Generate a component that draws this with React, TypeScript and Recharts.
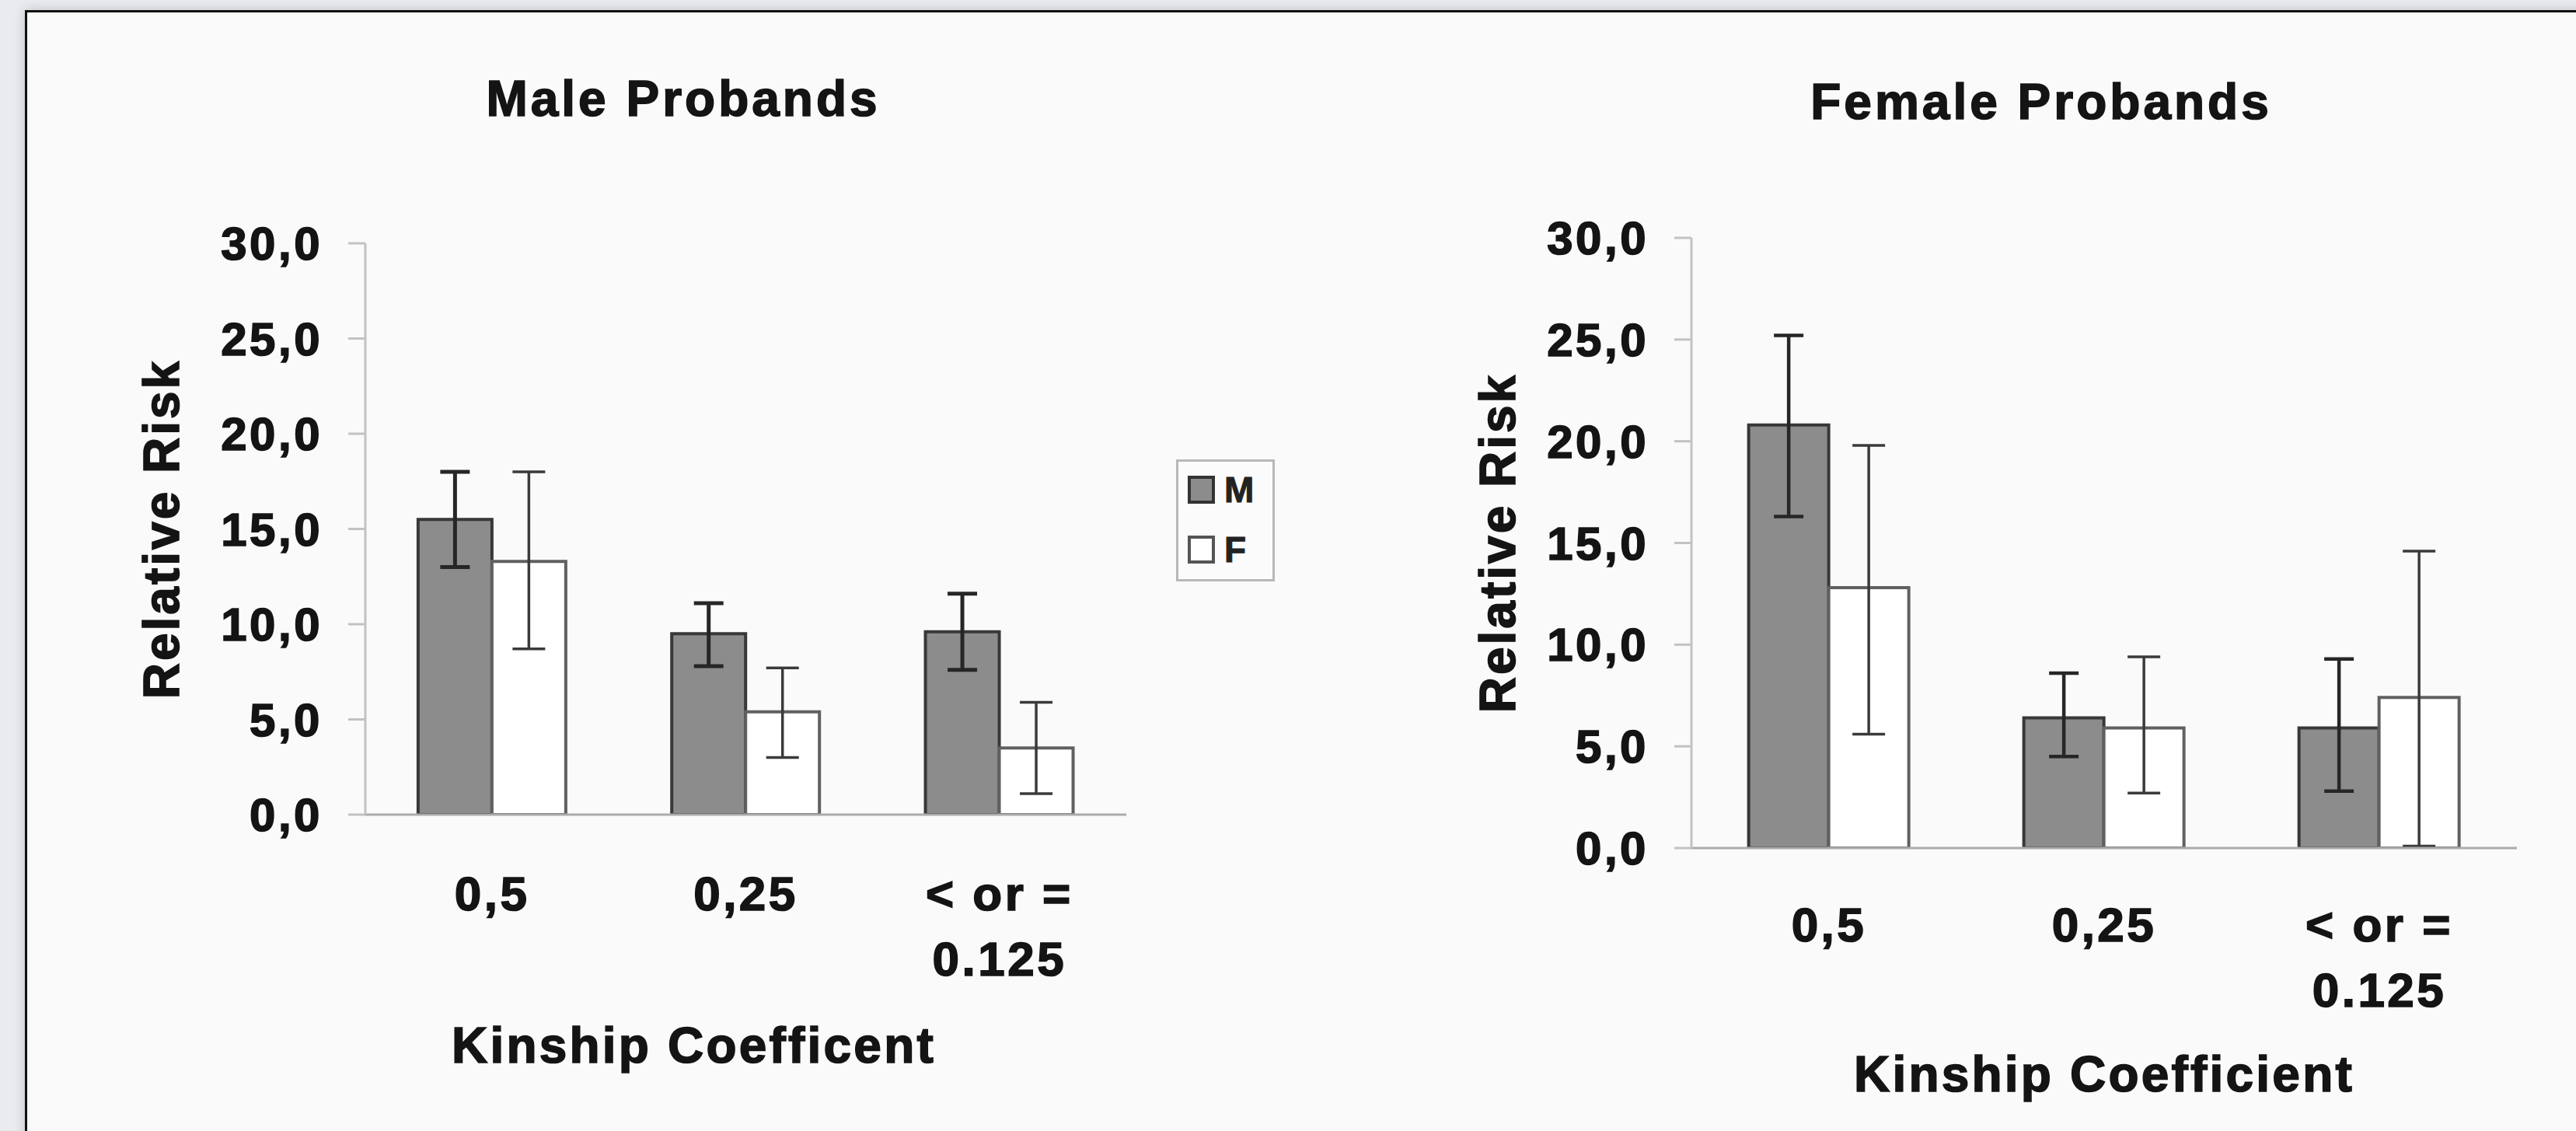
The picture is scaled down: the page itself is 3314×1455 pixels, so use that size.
import React from 'react';
import { BarChart, Bar, XAxis, YAxis, ErrorBar, Legend } from 'recharts';

// ---------- data ----------
const categories = ['0,5', '0,25', '< or =\n0.125'];
const yTicks = [0, 5, 10, 15, 20, 25, 30];
const yTickLabels = ['0,0', '5,0', '10,0', '15,0', '20,0', '25,0', '30,0'];
const seriesNames = ['M', 'F'];

// Male probands
const maleM = [15.5, 9.5, 9.6];
const maleMLow = [13.0, 7.8, 7.6];
const maleMHigh = [18.0, 11.1, 11.6];
const maleF = [13.3, 5.4, 3.5];
const maleFLow = [8.7, 3.0, 1.1];
const maleFHigh = [18.0, 7.7, 5.9];

// Female probands
const femaleM = [20.8, 6.4, 5.9];
const femaleMLow = [16.3, 4.5, 2.8];
const femaleMHigh = [25.2, 8.6, 9.3];
const femaleF = [12.8, 5.9, 7.4];
const femaleFLow = [5.6, 2.7, 0.1];
const femaleFHigh = [19.8, 9.4, 14.6];

const titles = ['Male Probands', 'Female Probands'];
const xTitles = ['Kinship Coefficent', 'Kinship Coefficient'];
const yTitle = 'Relative Risk';

// ---------- styles ----------
const FONT = "'Liberation Sans', Arial, Helvetica, sans-serif";
const INK = '#141414';
const M_FILL = '#8c8c8c';
const M_STROKE = '#383838';
const F_FILL = '#ffffff';
const F_STROKE = '#606060';
const legendFills = [M_FILL, F_FILL];
const legendStrokes = ['#333', '#555'];

function buildRows(m: number[], mLo: number[], mHi: number[], f: number[], fLo: number[], fHi: number[]) {
  return categories.map((cat, i) => ({
    cat,
    M: m[i],
    F: f[i],
    mErr: [m[i] - mLo[i], mHi[i] - m[i]],
    fErr: [f[i] - fLo[i], fHi[i] - f[i]],
  }));
}

const maleRows = buildRows(maleM, maleMLow, maleMHigh, maleF, maleFLow, maleFHigh);
const femaleRows = buildRows(femaleM, femaleMLow, femaleMHigh, femaleF, femaleFLow, femaleFHigh);

const textStyle = {
  fontFamily: FONT,
  fontWeight: 700,
  fill: INK,
  stroke: INK,
  strokeWidth: 1.6,
};

const YTick = (props: any) => {
  const { x, y, payload } = props;
  const idx = yTicks.indexOf(payload.value);
  return (
    <text x={x} y={y} dy={21} textAnchor="end" fontSize={60} letterSpacing={3.5} {...textStyle}>
      {yTickLabels[idx]}
    </text>
  );
};

const makeXTick = (base: number, gap: number) => (props: any) => {
  const { x, y, payload } = props;
  const lines = String(payload.value).split('\n');
  return (
    <g>
      {lines.map((ln, i) => (
        <text key={i} x={x} y={y + base + i * gap} textAnchor="middle" fontSize={62} letterSpacing={3.5} {...textStyle}>
          {ln}
        </text>
      ))}
    </g>
  );
};

const makeYLabel = (bx: number) => (props: any) => {
  const vb = props.viewBox || {};
  const cx = (vb.x || 0) + bx;
  const cy = (vb.y || 0) + (vb.height || 0) / 2;
  return (
    <text x={cx} y={cy} transform={`rotate(-90 ${cx} ${cy})`} textAnchor="middle" fontSize={64} letterSpacing={3} {...textStyle}>
      {yTitle}
    </text>
  );
};

const makeXLabel = (text: string, dx: number, base: number) => (props: any) => {
  const vb = props.viewBox || {};
  const cx = (vb.x || 0) + (vb.width || 0) / 2 + dx;
  const cy = (vb.y || 0) + base;
  return (
    <text x={cx} y={cy} textAnchor="middle" fontSize={64} letterSpacing={3.2} {...textStyle}>
      {text}
    </text>
  );
};

const LegendBox = (props: any) => {
  const payload = [...(props.payload || [])].sort(
    (a: any, b: any) => seriesNames.indexOf(a.value) - seriesNames.indexOf(b.value)
  );
  return (
    <div
      style={{
        width: 127,
        height: 157,
        boxSizing: 'border-box',
        border: '3px solid #b8b8b8',
        background: '#fbfbfb',
        paddingTop: 16,
        paddingLeft: 12,
        fontFamily: FONT,
      }}
    >
      {payload.map((entry: any, i: number) => (
        <div key={i} style={{ display: 'flex', alignItems: 'center', height: 40, marginBottom: 37 }}>
          <span
            style={{
              display: 'inline-block',
              width: 35,
              height: 36,
              boxSizing: 'border-box',
              background: legendFills[i],
              border: `4px solid ${legendStrokes[i]}`,
            }}
          />
          <span
            style={{
              marginLeft: 12,
              fontSize: 46,
              fontWeight: 700,
              color: '#222',
              lineHeight: '40px',
              WebkitTextStroke: '1px #222',
            }}
          >
            {entry.value}
          </span>
        </div>
      ))}
    </div>
  );
};

interface PanelProps {
  rows: any[];
  width: number;
  height: number;
  left: number;
  margin: { top: number; right: number; bottom: number; left: number };
  yAxisWidth: number;
  xTickBase: number;
  xLabel: string;
  xLabelDx: number;
  xLabelBase: number;
  yLabelX: number;
  showLegend: boolean;
  mErrWidth: number;
  fErrWidth: number;
}

const Panel = (p: PanelProps) => (
  <div style={{ position: 'absolute', left: p.left, top: 0 }}>
    <BarChart width={p.width} height={p.height} data={p.rows} margin={p.margin} barCategoryGap="20.8%" barGap={0}>
      <XAxis
        dataKey="cat"
        height={340}
        axisLine={{ stroke: '#ababab', strokeWidth: 3 }}
        tickLine={false}
        tickSize={0}
        tickMargin={0}
        interval={0}
        tick={makeXTick(p.xTickBase, 84)}
        label={makeXLabel(p.xLabel, p.xLabelDx, p.xLabelBase)}
      />
      <YAxis
        width={p.yAxisWidth}
        domain={[0, 30]}
        ticks={yTicks}
        interval={0}
        allowDataOverflow
        axisLine={{ stroke: '#c2c2c2', strokeWidth: 3 }}
        tickLine={{ stroke: '#c2c2c2', strokeWidth: 3 }}
        tickSize={22}
        tickMargin={33}
        tick={YTick}
        label={makeYLabel(p.yLabelX)}
      />
      {p.showLegend && (
        <Legend
          layout="vertical"
          align="center"
          verticalAlign="middle"
          wrapperStyle={{ position: 'absolute', left: 1513, top: 591, width: 127, height: 157 }}
          content={LegendBox}
        />
      )}
      <Bar dataKey="M" name={seriesNames[0]} fill={M_FILL} stroke={M_STROKE} strokeWidth={4} isAnimationActive={false}>
        <ErrorBar dataKey="mErr" direction="y" width={19} stroke="#262626" strokeWidth={p.mErrWidth} isAnimationActive={false} />
      </Bar>
      <Bar dataKey="F" name={seriesNames[1]} fill={F_FILL} stroke={F_STROKE} strokeWidth={4} isAnimationActive={false}>
        <ErrorBar dataKey="fErr" direction="y" width={21} stroke="#3a3a3a" strokeWidth={p.fErrWidth} isAnimationActive={false} />
      </Bar>
    </BarChart>
  </div>
);

const titleStyle = (center: number, top: number): React.CSSProperties => ({
  position: 'absolute',
  left: center - 500,
  top,
  width: 1000,
  textAlign: 'center',
  fontFamily: FONT,
  fontWeight: 700,
  fontSize: 64,
  lineHeight: '64px',
  letterSpacing: 4,
  color: INK,
  WebkitTextStroke: `1.6px ${INK}`,
  whiteSpace: 'nowrap',
});

export default function App() {
  return (
    <div
      style={{
        position: 'fixed',
        left: 0,
        top: 0,
        width: 3314,
        height: 1455,
        overflow: 'hidden',
        background: '#e9ebee',
      }}
    >
      <div
        style={{
          position: 'absolute',
          left: 32,
          top: 13,
          width: 3400,
          height: 1500,
          background: '#fafafa',
          border: '3px solid #111',
          boxShadow: '0 0 14px rgba(0,0,0,0.18)',
        }}
      />
      <div style={titleStyle(879, 95)}>{titles[0]}</div>
      <div style={titleStyle(2626, 99)}>{titles[1]}</div>
      <Panel
        rows={maleRows}
        left={0}
        width={1700}
        height={1455}
        margin={{ top: 313, right: 251, bottom: 67, left: 0 }}
        yAxisWidth={470}
        xTickBase={123}
        xLabel={xTitles[0]}
        xLabelDx={-67}
        xLabelBase={319}
        yLabelX={230}
        showLegend
        mErrWidth={5}
        fErrWidth={3.5}
      />
      <Panel
        rows={femaleRows}
        left={1700}
        width={1614}
        height={1455}
        margin={{ top: 306, right: 76, bottom: 24, left: 0 }}
        yAxisWidth={476}
        xTickBase={120}
        xLabel={xTitles[1]}
        xLabelDx={0}
        xLabelBase={313}
        yLabelX={249}
        showLegend={false}
        mErrWidth={4.5}
        fErrWidth={3.5}
      />
    </div>
  );
}
